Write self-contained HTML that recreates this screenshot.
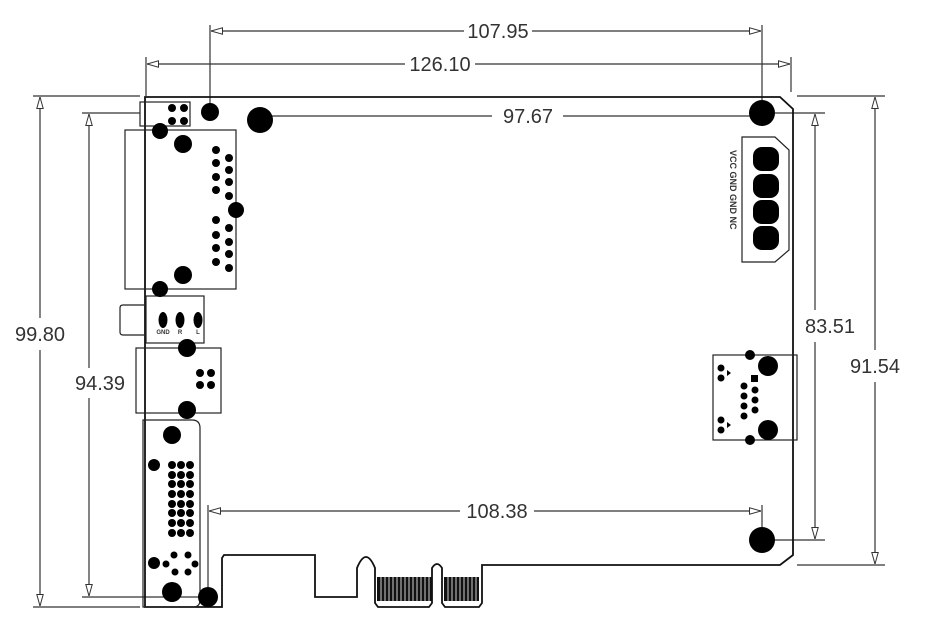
<!DOCTYPE html>
<html><head><meta charset="utf-8"><style>
html,body{margin:0;padding:0;background:#fff;}
svg{display:block;}
text{font-family:"Liberation Sans",sans-serif;fill:#333;}
</style></head><body>
<svg width="935" height="622" viewBox="0 0 935 622" xmlns="http://www.w3.org/2000/svg">
<defs>
<marker id="a" viewBox="0 0 12 8" refX="12" refY="4" markerWidth="12" markerHeight="8" orient="auto-start-reverse" markerUnits="userSpaceOnUse">
<path d="M12,4 L0.5,0.8 L0.5,7.2 Z" fill="#fff" stroke="#333" stroke-width="1"/>
</marker>
</defs>
<g stroke="#333" stroke-width="1.2" fill="none">
<line x1="210" y1="25" x2="210" y2="110"/>
<line x1="762" y1="25" x2="762" y2="105"/>
<line x1="211" y1="31" x2="464" y2="31" marker-start="url(#a)"/>
<line x1="532" y1="31" x2="761" y2="31" marker-end="url(#a)"/>
<line x1="146" y1="57" x2="146" y2="96"/>
<line x1="791" y1="57" x2="791" y2="92"/>
<line x1="147" y1="64" x2="405" y2="64" marker-start="url(#a)"/>
<line x1="475" y1="64" x2="790" y2="64" marker-end="url(#a)"/>
<line x1="272" y1="116" x2="492" y2="116"/>
<line x1="563" y1="116" x2="750" y2="116"/>
<line x1="208" y1="505" x2="208" y2="595"/>
<line x1="762" y1="505" x2="762" y2="528"/>
<line x1="209" y1="511" x2="460" y2="511" marker-start="url(#a)"/>
<line x1="534" y1="511" x2="761" y2="511" marker-end="url(#a)"/>
<line x1="33" y1="96" x2="140" y2="96"/>
<line x1="33" y1="607" x2="140" y2="607"/>
<line x1="40" y1="97" x2="40" y2="318" marker-start="url(#a)"/>
<line x1="40" y1="350" x2="40" y2="606" marker-end="url(#a)"/>
<line x1="82" y1="113" x2="140" y2="113"/>
<line x1="82" y1="597" x2="200" y2="597"/>
<line x1="89" y1="114" x2="89" y2="368" marker-start="url(#a)"/>
<line x1="89" y1="398" x2="89" y2="596" marker-end="url(#a)"/>
<line x1="775" y1="113" x2="825" y2="113"/>
<line x1="775" y1="540" x2="825" y2="540"/>
<line x1="815" y1="114" x2="815" y2="310" marker-start="url(#a)"/>
<line x1="815" y1="342" x2="815" y2="539" marker-end="url(#a)"/>
<line x1="797" y1="96" x2="885" y2="96"/>
<line x1="797" y1="565" x2="885" y2="565"/>
<line x1="875" y1="97" x2="875" y2="350" marker-start="url(#a)"/>
<line x1="875" y1="382" x2="875" y2="564" marker-end="url(#a)"/>
</g>
<g font-size="20">
<text x="498" y="38" text-anchor="middle">107.95</text>
<text x="440" y="71" text-anchor="middle">126.10</text>
<text x="528" y="123" text-anchor="middle">97.67</text>
<text x="497" y="518" text-anchor="middle">108.38</text>
<text x="40" y="341" text-anchor="middle">99.80</text>
<text x="100" y="390" text-anchor="middle">94.39</text>
<text x="830" y="333" text-anchor="middle">83.51</text>
<text x="875" y="373" text-anchor="middle">91.54</text>
</g>
<g stroke="#111" stroke-width="1.8" fill="none">
<path d="M145,97 L780,97 L793,109 L793,555 L780,565 L482,565 L482,603 L479,607 L445,607 L442,603 L442,568 Q437,560 432,568 L432,603 L429,607 L378,607 L375,603 L375,568 Q366,546 357,568 L357,597 L315,597 L315,555 L224,555 L222,558 L222,607 L145,607 Z"/>
</g>
<g fill="#111">
<rect x="377" y="577" width="55" height="24"/>
<rect x="444" y="577" width="35" height="24"/>
</g>
<g stroke="#fff" stroke-width="0.8">
<path d="M381,577V601M385,577V601M389,577V601M393,577V601M397,577V601M401,577V601M405,577V601M409,577V601M413,577V601M417,577V601M421,577V601M425,577V601M429,577V601M448,577V601M452,577V601M456,577V601M460,577V601M464,577V601M468,577V601M472,577V601M476,577V601"/>
</g>
<g stroke="#222" stroke-width="1.2" fill="none">
<rect x="140" y="102" width="50" height="24"/>
<rect x="125" y="130" width="111" height="159"/>
<rect x="146" y="296" width="58" height="47"/>
<path d="M146,305 L123,305 Q120,305 120,308 L120,332 Q120,335 123,335 L146,335"/>
<rect x="136" y="348" width="85" height="65"/>
<path d="M143,420 L192,420 Q200,420 200,428 L200,600 Q200,607 193,607 L143,607 Z"/>
<path d="M742,137 L775,137 L789,150 L789,250 L775,262 L742,262 Z"/>
<rect x="713" y="355" width="84" height="85"/>
</g>
<g fill="#000">
<circle cx="210" cy="112" r="9"/>
<circle cx="260" cy="120" r="13"/>
<circle cx="762" cy="113" r="13"/>
<circle cx="762" cy="540" r="13"/>
<circle cx="208" cy="597" r="10"/>
<circle cx="172" cy="592" r="10"/>
<circle cx="172" cy="108" r="4"/><circle cx="184" cy="108" r="4"/>
<circle cx="172" cy="121" r="4"/><circle cx="184" cy="121" r="4"/>
<circle cx="160" cy="131" r="8"/><circle cx="183" cy="144" r="9"/>
<circle cx="183" cy="275" r="9"/><circle cx="160" cy="289" r="8"/>
<circle cx="236" cy="210" r="8"/>
<circle cx="216" cy="150" r="4"/><circle cx="216" cy="163" r="4"/><circle cx="216" cy="177" r="4"/><circle cx="216" cy="190" r="4"/>
<circle cx="229" cy="158" r="4"/><circle cx="229" cy="170" r="4"/><circle cx="229" cy="182" r="4"/><circle cx="229" cy="196" r="4"/>
<circle cx="216" cy="220" r="4"/><circle cx="216" cy="235" r="4"/><circle cx="216" cy="248" r="4"/><circle cx="216" cy="262" r="4"/>
<circle cx="229" cy="228" r="4"/><circle cx="229" cy="242" r="4"/><circle cx="229" cy="254" r="4"/><circle cx="229" cy="268" r="4"/>
<ellipse cx="163" cy="320" rx="4.5" ry="8"/><ellipse cx="180" cy="320" rx="4.5" ry="8"/><ellipse cx="198" cy="320" rx="4.5" ry="8"/>
<circle cx="187" cy="348" r="9"/><circle cx="187" cy="410" r="9"/>
<circle cx="200" cy="373" r="4"/><circle cx="211" cy="373" r="4"/><circle cx="200" cy="385" r="4"/><circle cx="211" cy="385" r="4"/>
<circle cx="172" cy="435" r="9"/><circle cx="154" cy="465" r="6"/><circle cx="154" cy="563" r="6"/>
<circle cx="174" cy="555" r="3.5"/><circle cx="188" cy="555" r="3.5"/><circle cx="166" cy="564" r="3.5"/><circle cx="195" cy="564" r="3.5"/><circle cx="175" cy="572" r="3.5"/><circle cx="188" cy="572" r="3.5"/>
<rect x="753" y="147" width="26" height="24" rx="9"/>
<rect x="753" y="174" width="26" height="24" rx="9"/>
<rect x="753" y="200" width="26" height="24" rx="9"/>
<rect x="753" y="226" width="26" height="24" rx="9"/>
<circle cx="768" cy="366" r="10"/><circle cx="768" cy="430" r="10"/>
<circle cx="750" cy="355" r="5"/><circle cx="750" cy="440" r="5"/>
<rect x="751" y="375" width="7" height="7"/>
<circle cx="744" cy="386" r="3.5"/><circle cx="755" cy="390" r="3.5"/><circle cx="744" cy="396" r="3.5"/><circle cx="755" cy="400" r="3.5"/><circle cx="744" cy="406" r="3.5"/><circle cx="755" cy="410" r="3.5"/><circle cx="744" cy="416" r="3.5"/>
<circle cx="721" cy="368" r="3.5"/><circle cx="721" cy="378" r="3.5"/><circle cx="721" cy="420" r="3.5"/><circle cx="721" cy="430" r="3.5"/>
<path d="M727,370 l4,3 -4,3Z M727,422 l4,3 -4,3Z"/>
<circle cx="172" cy="465" r="4"/><circle cx="181" cy="465" r="4"/><circle cx="190" cy="465" r="4"/>
<circle cx="172" cy="475" r="4"/><circle cx="181" cy="475" r="4"/><circle cx="190" cy="475" r="4"/>
<circle cx="172" cy="484" r="4"/><circle cx="181" cy="484" r="4"/><circle cx="190" cy="484" r="4"/>
<circle cx="172" cy="494" r="4"/><circle cx="181" cy="494" r="4"/><circle cx="190" cy="494" r="4"/>
<circle cx="172" cy="504" r="4"/><circle cx="181" cy="504" r="4"/><circle cx="190" cy="504" r="4"/>
<circle cx="172" cy="513" r="4"/><circle cx="181" cy="513" r="4"/><circle cx="190" cy="513" r="4"/>
<circle cx="172" cy="523" r="4"/><circle cx="181" cy="523" r="4"/><circle cx="190" cy="523" r="4"/>
<circle cx="172" cy="533" r="4"/><circle cx="181" cy="533" r="4"/><circle cx="190" cy="533" r="4"/>
</g>
<g font-size="6" font-weight="bold" text-anchor="middle">
<text x="163" y="334">GND</text><text x="180" y="334">R</text><text x="198" y="334">L</text>
</g>
<g font-size="9" font-weight="bold">
<text transform="translate(730,150) rotate(90)">VCC GND GND NC</text>
</g>
</svg>
</body></html>
